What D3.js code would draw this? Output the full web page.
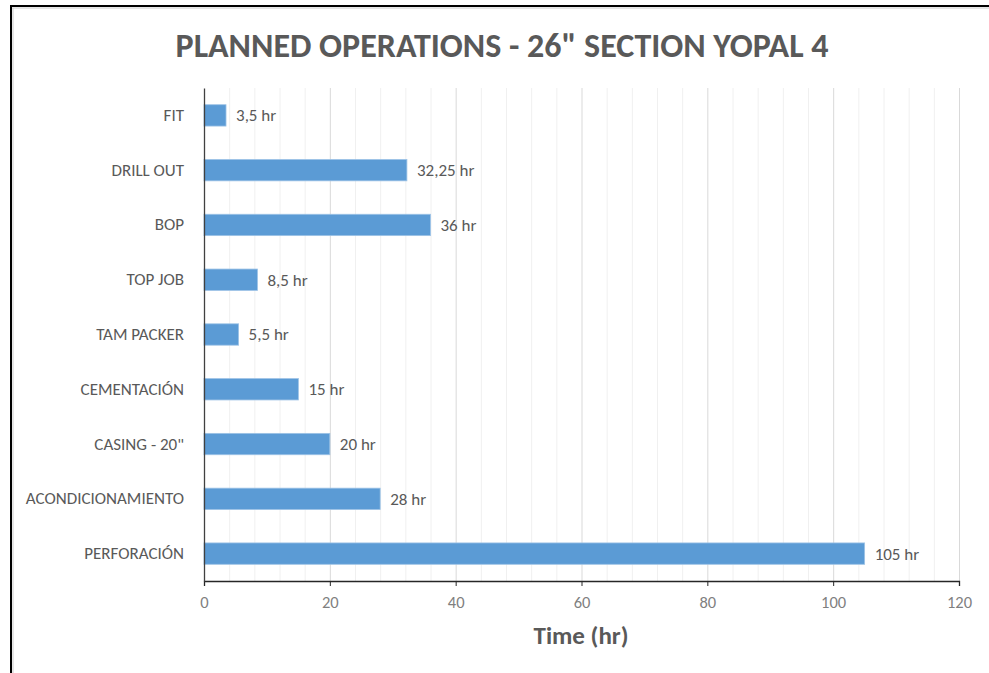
<!DOCTYPE html>
<html><head><meta charset="utf-8">
<script src="https://cdn.jsdelivr.net/npm/d3@7"></script>
<style>body{margin:0;background:#fff}svg{display:block}</style>
</head><body>
<svg id="c" width="989" height="673"></svg>
<script>
const categories = ["FIT","DRILL OUT","BOP","TOP JOB","TAM PACKER","CEMENTACIÓN","CASING - 20\"","ACONDICIONAMIENTO","PERFORACIÓN"];
const hours = [3.5, 32.25, 36, 8.5, 5.5, 15, 20, 28, 105];
const valueLabels = ["3,5 hr","32,25 hr","36 hr","8,5 hr","5,5 hr","15 hr","20 hr","28 hr","105 hr"];
const majorTicks = [0,20,40,60,80,100,120];
const minorTicks = d3.range(0,121,4);
const title = "PLANNED OPERATIONS - 26\" SECTION YOPAL 4";
const xTitle = "Time (hr)";

const svg = d3.select("#c");
const font = "Calibri, Carlito, Lato, 'Open Sans', sans-serif";
const m = {left:204, right:959, top:88, bottom:581};

// border
svg.append("line").attr("x1",11).attr("x2",11).attr("y1",5).attr("y2",673).attr("stroke","#000").attr("stroke-width",2);
svg.append("line").attr("x1",10).attr("x2",989).attr("y1",6).attr("y2",6).attr("stroke","#000").attr("stroke-width",2);
svg.append("line").attr("x1",13).attr("x2",13).attr("y1",8).attr("y2",673).attr("stroke","#ccc").attr("stroke-width",1);
svg.append("line").attr("x1",12).attr("x2",989).attr("y1",8).attr("y2",8).attr("stroke","#ccc").attr("stroke-width",1);

const x = d3.scaleLinear().domain([0,120]).range([m.left,m.right]);
const y = d3.scaleBand().domain(categories).range([m.top,m.bottom]).paddingInner(0.61).paddingOuter(0.305);

// gridlines
svg.append("g").selectAll("line").data(minorTicks.filter(t=>t%20!==0)).join("line")
  .attr("x1",d=>x(d)+0.5).attr("x2",d=>x(d)+0.5).attr("y1",m.top).attr("y2",m.bottom)
  .attr("stroke","#f0f0f0");
svg.append("g").selectAll("line").data(majorTicks.filter(t=>t>0)).join("line")
  .attr("x1",d=>x(d)+0.5).attr("x2",d=>x(d)+0.5).attr("y1",m.top).attr("y2",m.bottom)
  .attr("stroke","#d9d9d9");

// bars
svg.append("g").selectAll("rect").data(categories).join("rect")
  .attr("x",x(0)).attr("y",d=>y(d)).attr("width",(d,i)=>x(hours[i])-x(0)).attr("height",y.bandwidth())
  .attr("fill","#5b9bd5").attr("stroke","#9dc3e6").attr("stroke-width",0.8);

// value labels
svg.append("g").selectAll("text").data(categories).join("text")
  .attr("x",(d,i)=>x(hours[i])+10).attr("y",d=>y(d)+y.bandwidth()/2).attr("dy","0.35em")
  .attr("font-family",font).attr("font-size",17).attr("fill","#595959")
  .text((d,i)=>valueLabels[i]);

// x axis
const xAxis = d3.axisBottom(x).tickValues(majorTicks).tickSize(5).tickPadding(10);
const gx = svg.append("g").attr("transform",`translate(0,${m.bottom})`).call(xAxis);
gx.select(".domain").attr("stroke","#262626").attr("stroke-width",1.3);
gx.selectAll(".tick line").attr("stroke","#262626");
gx.selectAll("text").attr("font-family",font).attr("font-size",16.5).attr("fill","#7f7f7f");

// y axis
const yAxis = d3.axisLeft(y).tickSize(0).tickPadding(20);
const gy = svg.append("g").attr("transform",`translate(${m.left},0)`).call(yAxis);
gy.select(".domain").attr("stroke","#404040").attr("stroke-width",1.3);
gy.selectAll("text").attr("font-family",font).attr("font-size",17).attr("fill","#595959");

// titles
svg.append("text").attr("x",502).attr("y",57).attr("text-anchor","middle")
  .attr("font-family",font).attr("font-weight","bold").attr("font-size",34).attr("fill","#595959").text(title);
svg.append("text").attr("x",581).attr("y",644).attr("text-anchor","middle")
  .attr("font-family",font).attr("font-weight","bold").attr("font-size",25).attr("fill","#595959").text(xTitle);
</script>
</body></html>
